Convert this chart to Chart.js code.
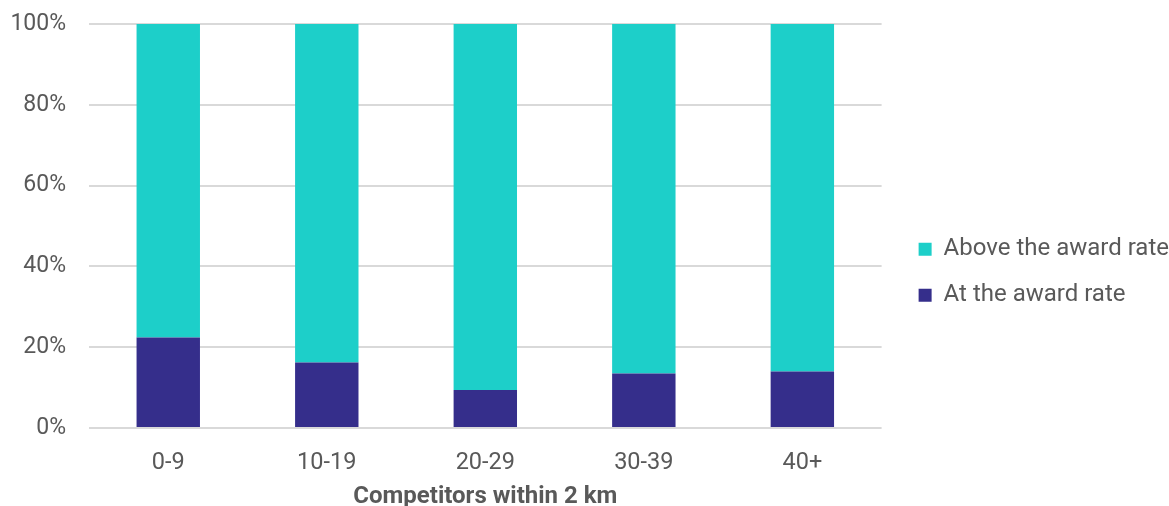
<!DOCTYPE html>
<html>
<head>
<meta charset="utf-8">
<script src="https://cdn.jsdelivr.net/npm/chart.js@4"></script>
<style>
html,body{margin:0;padding:0;background:#fff;}
#wrap{width:1169px;height:506px;position:relative;}
</style>
</head>
<body>
<div id="wrap"><canvas id="c" width="1169" height="506"></canvas></div>
<script>
const categories = ["0-9", "10-19", "20-29", "30-39", "40+"];
const atRate = [22.4, 16.2, 9.4, 13.5, 14.0];
const aboveRate = [77.6, 83.8, 90.6, 86.5, 86.0];
const yTicks = [0, 20, 40, 60, 80, 100];

const textColor = '#595959';
const LEGEND_GAP = 15;

const legendGap = {
  id: 'legendGap',
  beforeUpdate(chart) {
    const lg = chart.legend;
    if (lg && !lg._gapWrapped) {
      const origFit = lg.fit;
      lg.fit = function () { origFit.call(this); this.width += LEGEND_GAP; };
      lg._gapWrapped = true;
    }
  },
  afterLayout(chart) {
    if (chart.legend) chart.legend.left += LEGEND_GAP;
  }
};

new Chart(document.getElementById('c'), {
  type: 'bar',
  data: {
    labels: categories,
    datasets: [
      { label: 'At the award rate', data: atRate, backgroundColor: '#352E8B', barPercentage: 0.8, categoryPercentage: 0.5 },
      { label: 'Above the award rate', data: aboveRate, backgroundColor: '#1DCFC9', barPercentage: 0.8, categoryPercentage: 0.5 }
    ]
  },
  plugins: [legendGap],
  options: {
    responsive: false,
    animation: false,
    devicePixelRatio: 1,
    layout: { padding: { top: 24, right: -10, left: 0, bottom: 0 } },
    plugins: {
      legend: {
        position: 'right',
        reverse: true,
        title: { display: true, text: '', padding: 0 },
        labels: {
          boxWidth: 13, boxHeight: 13, padding: 22,
          color: textColor,
          font: { family: 'Roboto', size: 24 }
        }
      },
      tooltip: { enabled: false }
    },
    scales: {
      x: {
        stacked: true,
        grid: { display: false },
        border: { display: false },
        afterFit: (a) => { a.height = 78; a.paddingLeft = 0; a.paddingRight = 0; },
        ticks: { color: textColor, font: { family: 'Roboto', size: 23.5 }, padding: 13 },
        title: { display: true, text: 'Competitors within 2 km', color: textColor, font: { family: 'Roboto', size: 24, weight: 'bold' }, padding: { top: 0, bottom: -5 } }
      },
      y: {
        stacked: true,
        min: 0, max: 100,
        afterFit: (a) => { a.width = 89; a.paddingTop = 0; a.paddingBottom = 0; },
        afterBuildTicks: (axis) => { axis.ticks = yTicks.map(v => ({ value: v })); },
        grid: { color: '#d9d9d9', lineWidth: 2, drawTicks: false },
        border: { display: false },
        ticks: { color: textColor, font: { family: 'Roboto', size: 23 }, padding: 23, callback: v => v + '%' }
      }
    }
  }
});
</script>
</body>
</html>
